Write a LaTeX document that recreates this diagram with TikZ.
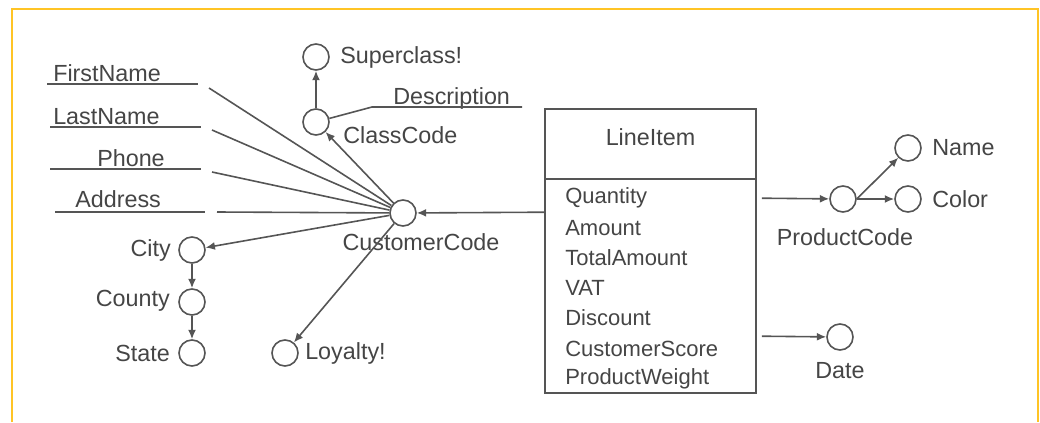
\documentclass[tikz,border=0pt]{standalone}
\usepackage{fontspec}
\setmainfont{Liberation Sans}
\usetikzlibrary{arrows.meta,calc}
\definecolor{frameY}{HTML}{FFC425}
\definecolor{ink}{HTML}{555555}
\definecolor{txt}{HTML}{454545}
\begin{document}
\begin{tikzpicture}[x=0.75pt,y=-0.75pt,
  ln/.style={draw=ink,line width=1.2pt},
  arr/.style={ln,-{Latex[length=7pt,width=6pt]}},
  ball/.style={circle,draw=ink,line width=1.2pt,minimum size=19.5pt,inner sep=0pt},
  lbl/.style={text=txt,font=\fontsize{17.5}{20}\selectfont,inner sep=0pt},
  attr/.style={text=txt,font=\fontsize{16.5}{20}\selectfont,inner sep=0pt,anchor=west},
  boxpart/.style={draw=ink,line width=1.2pt,minimum width=158.25pt,inner sep=0pt},
]
\useasboundingbox (0,0) rectangle (1040,422);
\draw[frameY,line width=1.5pt] (12,422) -- (12,9) -- (1038,9) -- (1038,422);

% circles
\node[ball] (cc) at (403,213) {};
\node[ball] (cls) at (316,122) {};
\node[ball] (sup) at (316,57) {};
\node[ball] (city) at (192,250) {};
\node[ball] (county) at (192,302) {};
\node[ball] (state) at (192,353) {};
\node[ball] (loy) at (285,353) {};
\node[ball] (pc) at (843,199) {};
\node[ball] (nm) at (908,148) {};
\node[ball] (col) at (908,199) {};
\node[ball] (dt) at (840,337) {};

% LineItem box
\node[boxpart,minimum height=52.5pt] (lih) at (650.5,144) {};
\node[boxpart,minimum height=160.5pt] (lib) at (650.5,286) {};
\node[lbl] (lit) at (650.5,137) {LineItem};
\node[attr] (a1) at (565,198) {Quantity};
\node[attr] (a2) at (565,228) {Amount};
\node[attr] (a3) at (565,258) {TotalAmount};
\node[attr] (a4) at (565,288) {VAT};
\node[attr] (a5) at (565,318) {Discount};
\node[attr] (a6) at (565,349) {CustomerScore};
\node[attr] (a7) at (565,379) {ProductWeight};

% labels
\node[lbl,anchor=west] (tsup) at (340,57) {Superclass!};
\node[lbl,anchor=west] (tcls) at (343,135) {ClassCode};
\node[lbl,anchor=base west] (tdesc) at (393,104) {Description};
\node[lbl] (tcc) at (421,242) {CustomerCode};
\node[lbl,anchor=east] (tcity) at (171,250) {City};
\node[lbl,anchor=east] (tcounty) at (170,301) {County};
\node[lbl,anchor=east] (tstate) at (170,353) {State};
\node[lbl,anchor=west] (tloy) at (305,353) {Loyalty!};
\node[lbl] (tpc) at (845,237) {ProductCode};
\node[lbl,anchor=west] (tnm) at (932,148) {Name};
\node[lbl,anchor=west] (tcol) at (932,199) {Color};
\node[lbl] (tdt) at (840,371) {Date};

% attribute labels with underlines
\node[lbl,anchor=base west] (tfn) at (53,81.5) {FirstName};
\node[lbl,anchor=base west] (tln) at (53,124.5) {LastName};
\node[lbl,anchor=base west] (tph) at (97,166.5) {Phone};
\node[lbl,anchor=base west] (tad) at (75,207) {Address};
\coordinate (fnA) at (47,84);  \coordinate (fnB) at (198,84);
\coordinate (lnA) at (50,127); \coordinate (lnB) at (201,127);
\coordinate (phA) at (50,169); \coordinate (phB) at (201,169);
\coordinate (adA) at (55,212); \coordinate (adB) at (205,212);
\draw[ln] (fnA) -- (fnB);
\draw[ln] (lnA) -- (lnB);
\draw[ln] (phA) -- (phB);
\draw[ln] (adA) -- (adB);
\coordinate (fnC) at (209,88);
\coordinate (lnC) at (212,130);
\coordinate (phC) at (212,172);
\coordinate (adC) at (217,212);
\draw[ln] (fnC) -- (cc);
\draw[ln] (lnC) -- (cc);
\draw[ln] (phC) -- (cc);
\draw[ln] (adC) -- (cc);

% description
\coordinate (dsA) at (372,107); \coordinate (dsB) at (522,107);
\draw[ln] (cls) -- (dsA) -- (dsB);

% connectors
\draw[arr] (cls) -- (sup);
\draw[arr] (cc) -- (cls);
\draw[arr] (cc) -- (city);
\draw[arr] (cc) -- (loy);
\draw[arr] (city) -- (county);
\draw[arr] (county) -- (state);
\coordinate (liCC) at ($(lib.north west)+(0,34)$);
\coordinate (liPC) at ($(lib.north east)+(5,20)$);
\coordinate (liDT) at ($(lib.north east)+(5,158)$);
\draw[arr] (liCC) -- (cc);
\draw[arr] (liPC) -- (pc);
\draw[arr] (liDT) -- (dt);
\draw[arr] (pc.east) -- (nm);
\draw[arr] (pc.east) -- (col);
\end{tikzpicture}
\end{document}
